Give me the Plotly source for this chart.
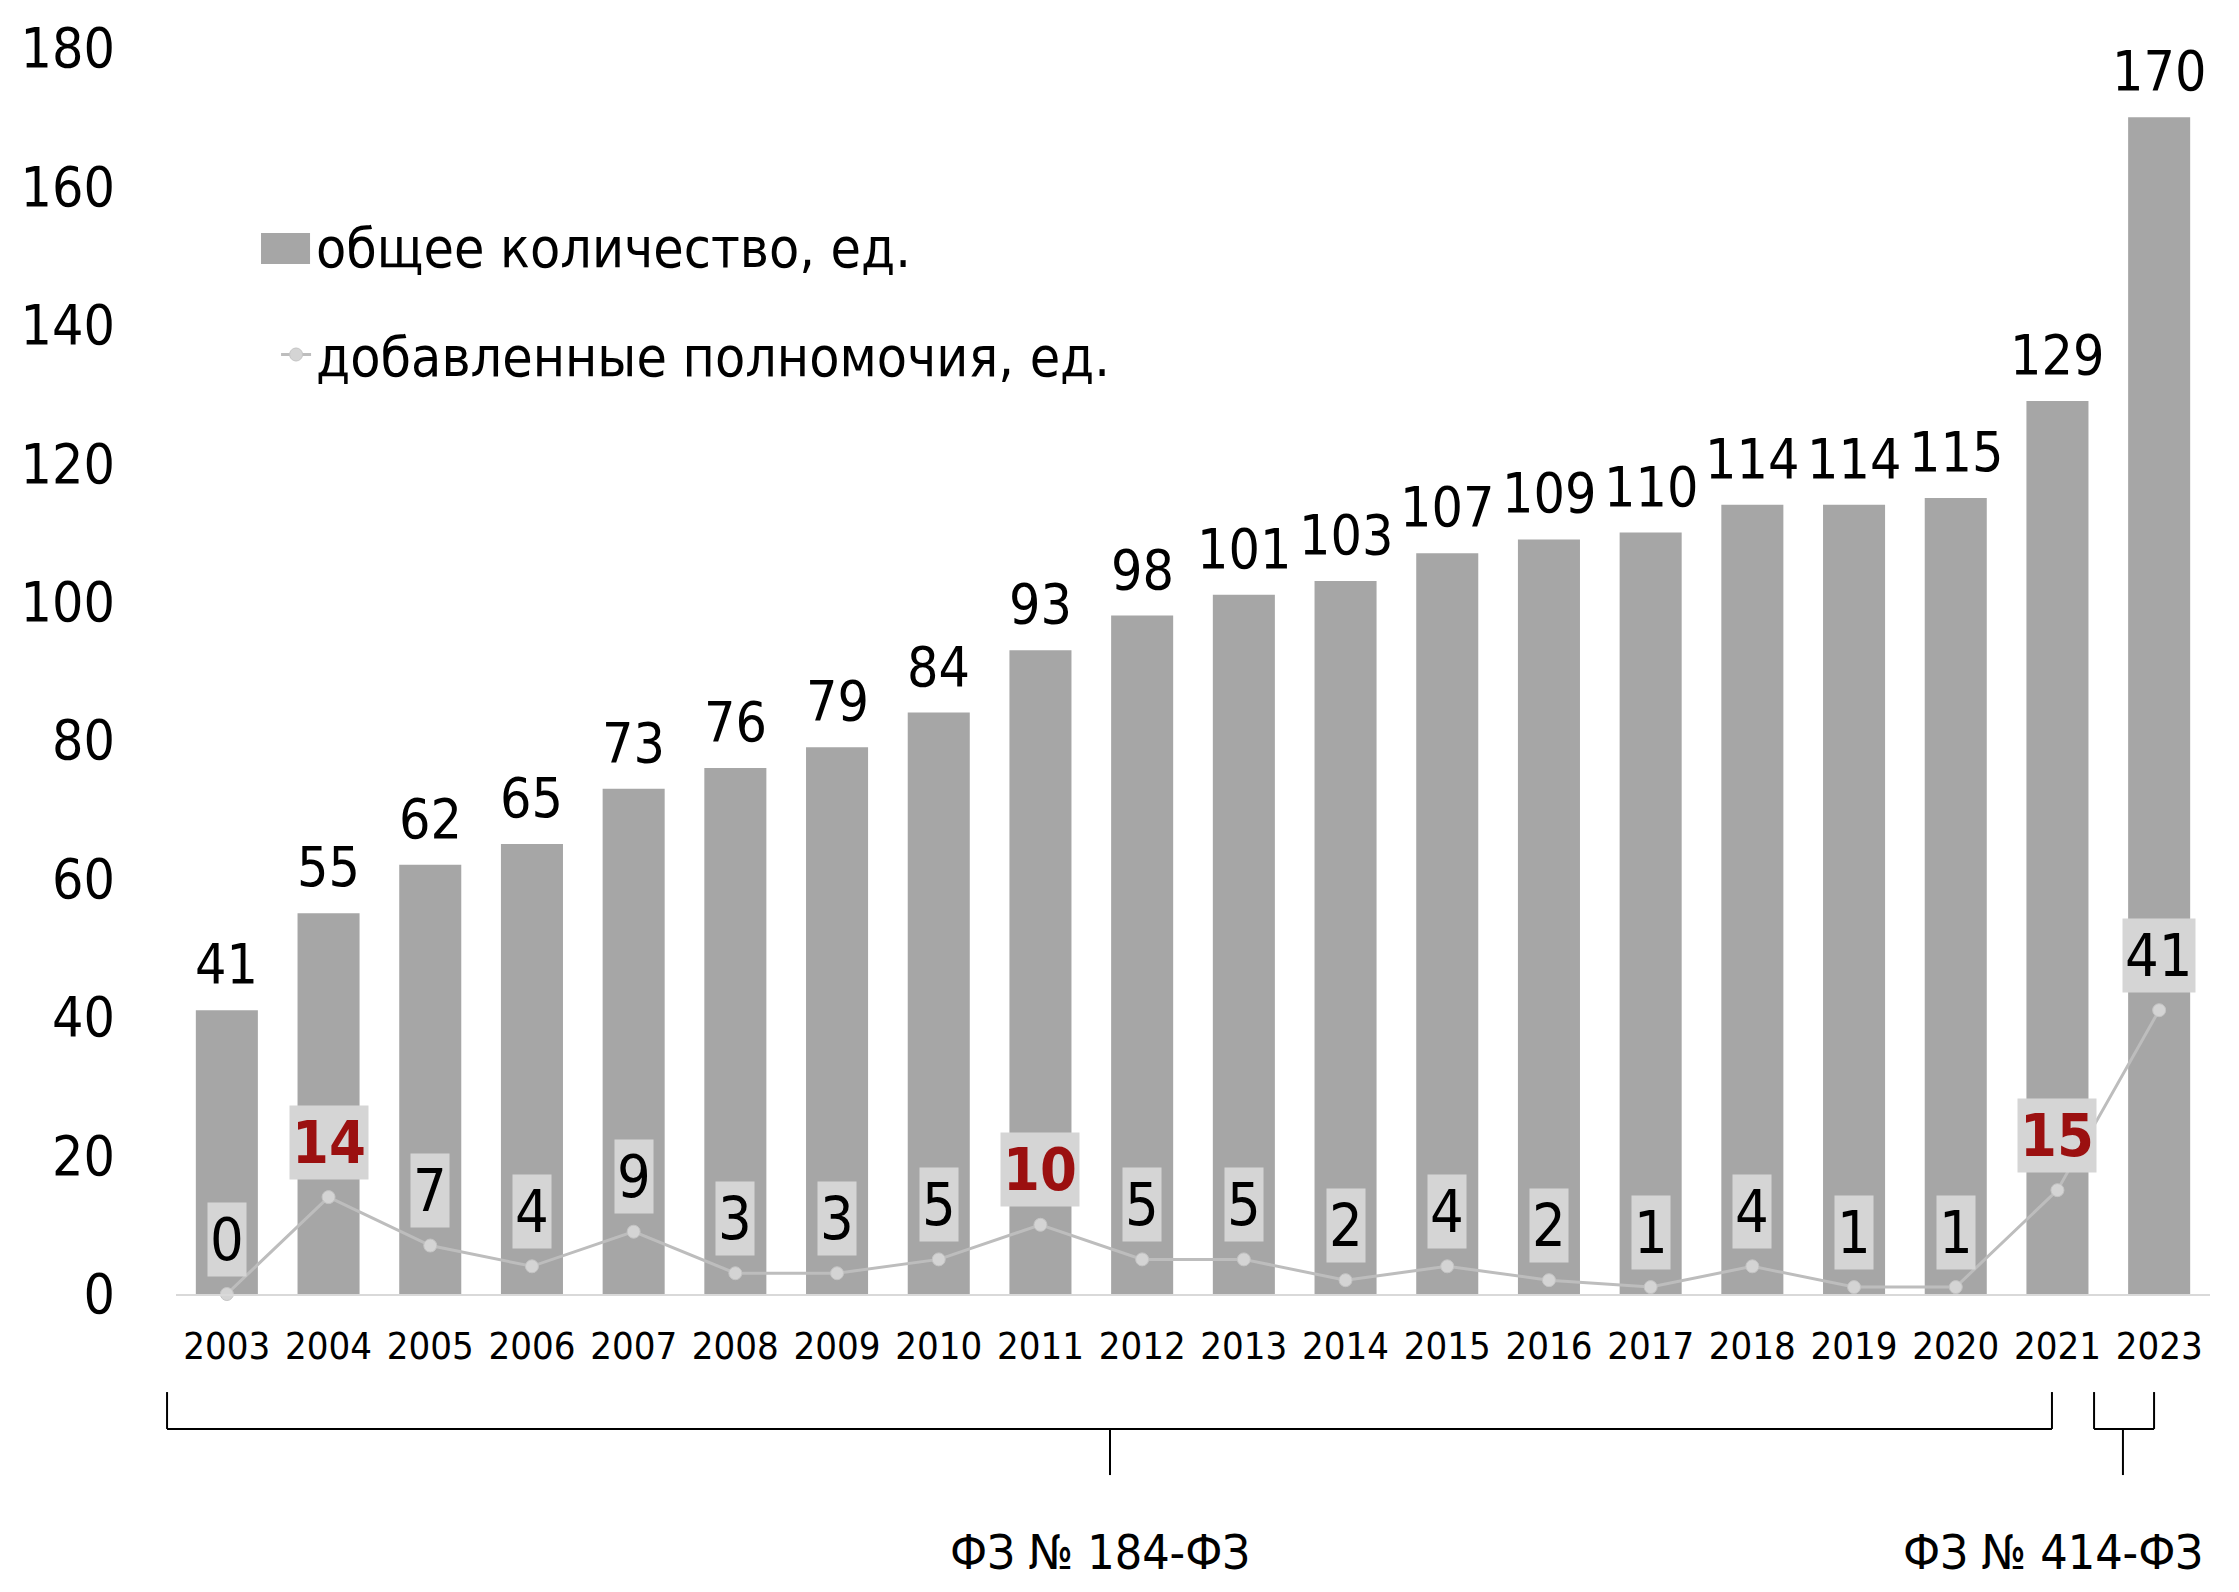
import plotly.graph_objects as go

years = ["2003", "2004", "2005", "2006", "2007", "2008", "2009", "2010", "2011", "2012",
         "2013", "2014", "2015", "2016", "2017", "2018", "2019", "2020", "2021", "2023"]
total = [41, 55, 62, 65, 73, 76, 79, 84, 93, 98, 101, 103, 107, 109, 110, 114, 114, 115, 129, 170]
added = [0, 14, 7, 4, 9, 3, 3, 5, 10, 5, 5, 2, 4, 2, 1, 4, 1, 1, 15, 41]
highlight = ["2004", "2011", "2021"]
y_ticks = [0, 20, 40, 60, 80, 100, 120, 140, 160, 180]
name_total = "общее количество, ед."
name_added = "добавленные полномочия, ед."
law_labels = ["ФЗ № 184-ФЗ", "ФЗ № 414-ФЗ"]

FONT = "DejaVu Sans Condensed, DejaVu Sans, sans-serif"
BAR_COLOR = "#a6a6a6"
LINE_COLOR = "#bdbdbd"
RED = "#9b1010"

fig = go.Figure()
fig.add_trace(go.Bar(
    x=years, y=total, name=name_total, marker_color=BAR_COLOR,
    marker_line_width=0, cliponaxis=False, legendgroup="g1",
))
fig.add_trace(go.Scatter(
    x=years, y=added, name=name_added, mode="lines+markers",
    line=dict(color=LINE_COLOR, width=3),
    marker=dict(size=13, color="#d4d4d4", line=dict(color="#c4c4c4", width=1)),
    cliponaxis=False, legendgroup="g2",
))

# value labels of the bars (category index positions on the x axis)
for i, v in enumerate(total):
    fig.add_annotation(
        x=i, y=v, xref="x", yref="y", yshift=46, showarrow=False,
        text=str(v), font=dict(size=55, color="black", family=FONT),
    )

# value labels of the line, on light boxes
for i, (yr, v) in enumerate(zip(years, added)):
    red = yr in highlight
    fig.add_annotation(
        x=i, y=v, xref="x", yref="y", yshift=55, showarrow=False,
        text=f"<b>{v}</b>" if red else str(v),
        font=dict(size=59, color=RED if red else "black", family=FONT),
        bgcolor="#d5d5d5", borderpad=2,
    )

# enlarged key for the bar legend entry
fig.add_shape(type="rect", xref="paper", yref="paper", layer="above",
              x0=0.0418, x1=0.0659, y0=0.8266, y1=0.8515,
              fillcolor=BAR_COLOR, line_width=0)

# brackets under the axis
line = dict(color="black", width=2)
b1 = (-0.0044, 0.9223, 0.4592)
b2 = (0.943, 0.9725, 0.9572)
y_top, y_mid, y_low = -0.0787, -0.1083, -0.1453
for x0, x1, xc in (b1, b2):
    fig.add_shape(type="line", xref="paper", yref="paper", x0=x0, x1=x0, y0=y_top, y1=y_mid, line=line)
    fig.add_shape(type="line", xref="paper", yref="paper", x0=x1, x1=x1, y0=y_top, y1=y_mid, line=line)
    fig.add_shape(type="line", xref="paper", yref="paper", x0=x0, x1=x1, y0=y_mid, y1=y_mid, line=line)
    fig.add_shape(type="line", xref="paper", yref="paper", x0=xc, x1=xc, y0=y_mid, y1=y_low, line=line)

for txt, xc in zip(law_labels, (0.4543, 0.9228)):
    fig.add_annotation(x=xc, y=-0.207, xref="paper", yref="paper", showarrow=False,
                       xanchor="center", yanchor="middle",
                       text=txt, font=dict(size=48, color="black", family=FONT))

fig.update_layout(
    width=2231, height=1584,
    margin=dict(l=168, r=29, t=40, b=298, autoexpand=False),
    paper_bgcolor="white", plot_bgcolor="white",
    font=dict(family=FONT, color="black"),
    bargap=0.39,
    legend=dict(x=0.0492, y=0.875, xanchor="left", yanchor="top",
                traceorder="grouped", tracegroupgap=34,
                font=dict(size=55, family=FONT, color="black"), bgcolor="rgba(0,0,0,0)"),
    xaxis=dict(type="category", showline=True, linecolor="#d9d9d9", linewidth=2,
               showgrid=False, ticks="", tickfont=dict(size=38, family=FONT, color="black"),
               ticklabelstandoff=17, range=[-0.5, 19.5], automargin=False),
    yaxis=dict(range=[0, 180], tickvals=y_ticks, showgrid=False, zeroline=False,
               showline=False, ticks="", tickfont=dict(size=55, family=FONT, color="black"),
               ticklabelstandoff=60, automargin=False),
)

fig.write_html("out.html")
